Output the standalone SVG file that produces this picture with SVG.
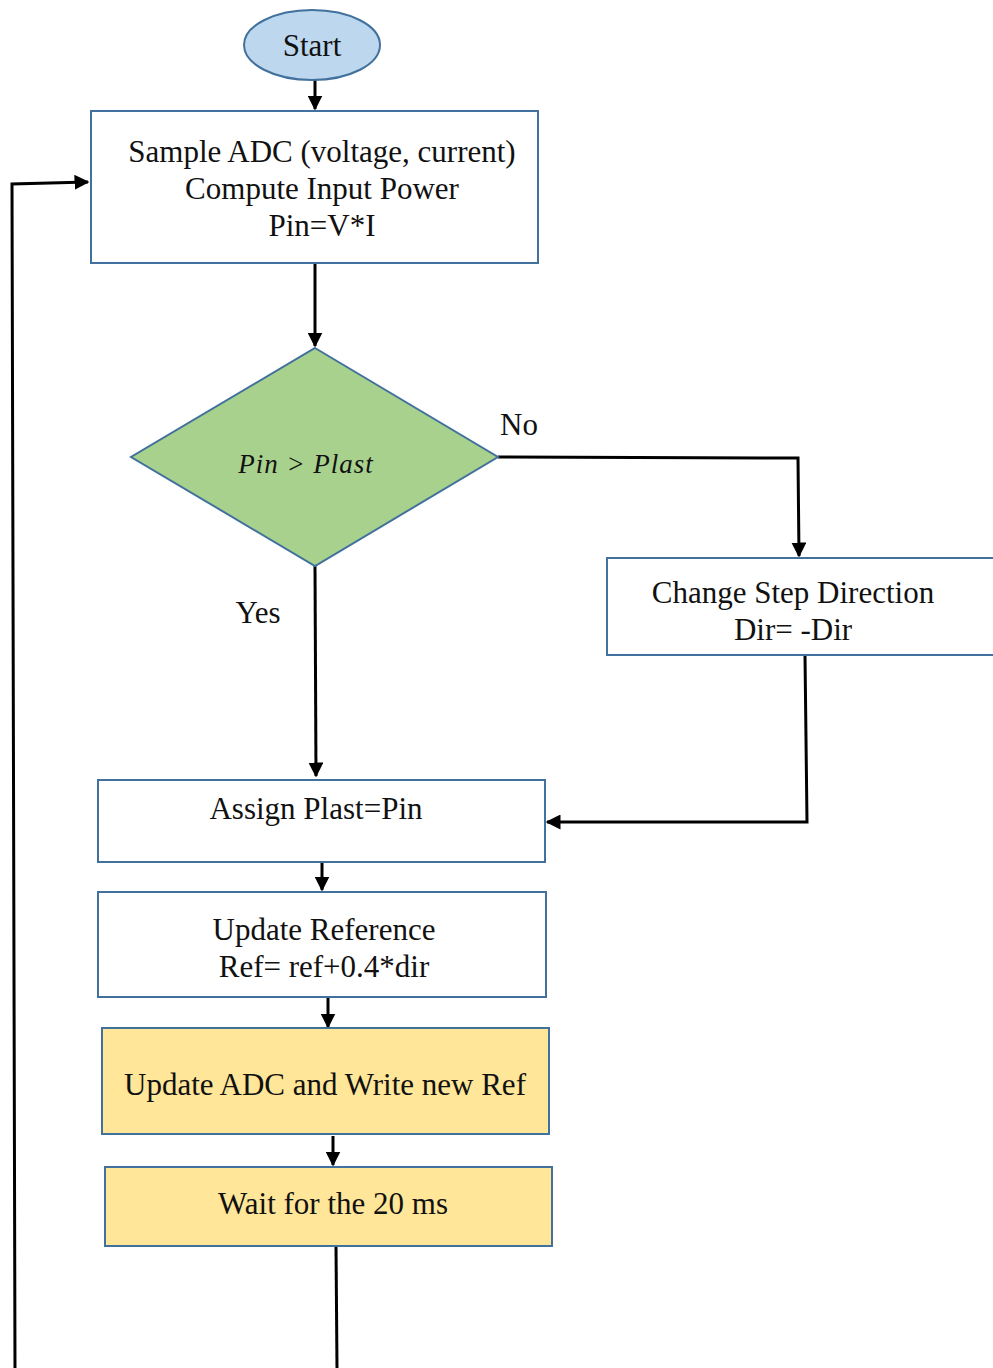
<svg xmlns="http://www.w3.org/2000/svg" width="993" height="1368" viewBox="0 0 993 1368">
  <style>
    .box { fill: #ffffff; stroke: #41719c; stroke-width: 2; }
    .warm { fill: #ffe699; stroke: #41719c; stroke-width: 2; }
    .lbl { font-family: "Liberation Serif", "Times New Roman", serif; font-size: 31px; fill: #111; text-anchor: middle; }
    .math { font-family: "Liberation Serif", serif; font-style: italic; font-size: 27px; fill: #111; text-anchor: middle; letter-spacing: 1px; }
    .wire { fill: none; stroke: #000; stroke-width: 3; }
  </style>
  <defs>
    <marker id="arrow" viewBox="0 0 10 10" refX="9" refY="5" markerWidth="5" markerHeight="5" orient="auto" markerUnits="strokeWidth">
      <path d="M0,0 L10,5 L0,10 z" fill="#000"/>
    </marker>
  </defs>
  <rect width="993" height="1368" fill="#ffffff"/>

  <!-- connectors -->
  <g id="connectors">
    <path class="wire" d="M315,80 L315,109" marker-end="url(#arrow)"/>
    <path class="wire" d="M315,263 L315,346" marker-end="url(#arrow)"/>
    <path class="wire" d="M498,457 L798,458 L799,556" marker-end="url(#arrow)"/>
    <path class="wire" d="M315,566 L316,776" marker-end="url(#arrow)"/>
    <path class="wire" d="M805,655 L807,822 L547,822" marker-end="url(#arrow)"/>
    <path class="wire" d="M322,862 L322,890" marker-end="url(#arrow)"/>
    <path class="wire" d="M328,997 L328,1027" marker-end="url(#arrow)"/>
    <path class="wire" d="M333,1136 L333,1165" marker-end="url(#arrow)"/>
    <path class="wire" d="M336,1246 L337,1368"/>
    <path class="wire" d="M15,1368 L12,184 L88,182" marker-end="url(#arrow)"/>
  </g>

  <g id="start">
    <ellipse cx="312" cy="45" rx="68" ry="35" fill="#bdd7ee" stroke="#41719c" stroke-width="2"/>
    <text class="lbl" x="312" y="56">Start</text>
  </g>

  <g id="sample">
    <rect class="box" x="91" y="111" width="447" height="152"/>
    <text class="lbl" x="322" y="162">Sample ADC (voltage, current)</text>
    <text class="lbl" x="322" y="199">Compute Input Power</text>
    <text class="lbl" x="322" y="236">Pin=V*I</text>
  </g>

  <g id="decision">
    <polygon points="315,348 498,457 315,566 131,457" fill="#a9d18e" stroke="#41719c" stroke-width="2"/>
    <text class="math" x="306" y="473">Pin &gt; Plast</text>
  </g>

  <g id="labels">
    <text class="lbl" x="519" y="435">No</text>
    <text class="lbl" x="258" y="623">Yes</text>
  </g>

  <g id="change">
    <rect class="box" x="607" y="558" width="400" height="97"/>
    <text class="lbl" x="793" y="603">Change Step Direction</text>
    <text class="lbl" x="793" y="640">Dir= -Dir</text>
  </g>

  <g id="assign">
    <rect class="box" x="98" y="780" width="447" height="82"/>
    <text class="lbl" x="316" y="819">Assign Plast=Pin</text>
  </g>

  <g id="update-ref">
    <rect class="box" x="98" y="892" width="448" height="105"/>
    <text class="lbl" x="324" y="940">Update Reference</text>
    <text class="lbl" x="324" y="977">Ref= ref+0.4*dir</text>
  </g>

  <g id="write-ref">
    <rect class="warm" x="102" y="1028" width="447" height="106"/>
    <text class="lbl" x="325" y="1095">Update ADC and Write new Ref</text>
  </g>

  <g id="wait">
    <rect class="warm" x="105" y="1167" width="447" height="79"/>
    <text class="lbl" x="333" y="1214">Wait for the 20 ms</text>
  </g>
</svg>
